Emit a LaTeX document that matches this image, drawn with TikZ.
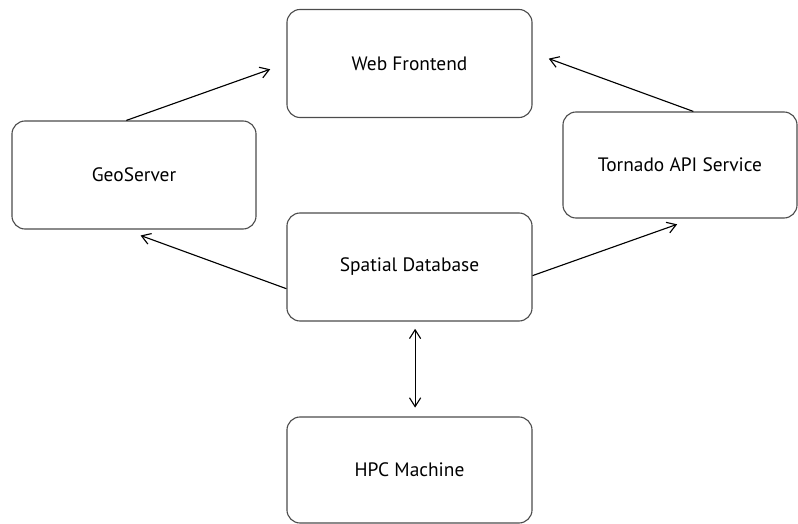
\documentclass[tikz,border=0pt]{standalone}
\usepackage{fontspec}
\setmainfont{PT Sans}
\usetikzlibrary{arrows.meta}
\begin{document}
\begin{tikzpicture}[x=0.025cm, y=-0.025cm,
  >={Straight Barb[length = 2.2mm, width = 2.8mm]},
  box/.style = {draw = black!70, line width = 0.8pt, rounded corners = 0.33cm,
    minimum width = 6.125cm, minimum height = 2.7cm, inner sep = 0pt,
    font = \fontsize{13.8}{16}\selectfont},
  link/.style = {->, line width = 0.8pt, shorten > = 0.43cm}]
  \useasboundingbox (0,0) rectangle (798,524);
  % services
  \node[box] (web) at (409.5,63.5) {Web Frontend};
  \node[box, minimum width = 6.1cm] (geo) at (134,175) {GeoServer};
  \node[box, minimum width = 5.85cm, minimum height = 2.65cm] (tornado) at (680,165) {Tornado API Service};
  % database
  \node[box] (db) at (409.5,267) {Spatial Database};
  % compute
  \node[box, minimum height = 2.65cm] (hpc) at (409.5,470) {HPC Machine};
  % to the frontend
  \draw[link] (geo.98) -- (web.west);
  \draw[link] (tornado.76) -- (web.5);
  % from the database
  \draw[link] (db.190) -- (geo.260);
  \draw[link] (db.-4) -- (tornado.-76);
  % database and hpc
  \draw[link, <->, shorten < = 0.18cm, shorten > = 0.22cm]
    ([xshift = 0.14cm]db.south) -- ([xshift = 0.14cm]hpc.north);
\end{tikzpicture}
\end{document}
